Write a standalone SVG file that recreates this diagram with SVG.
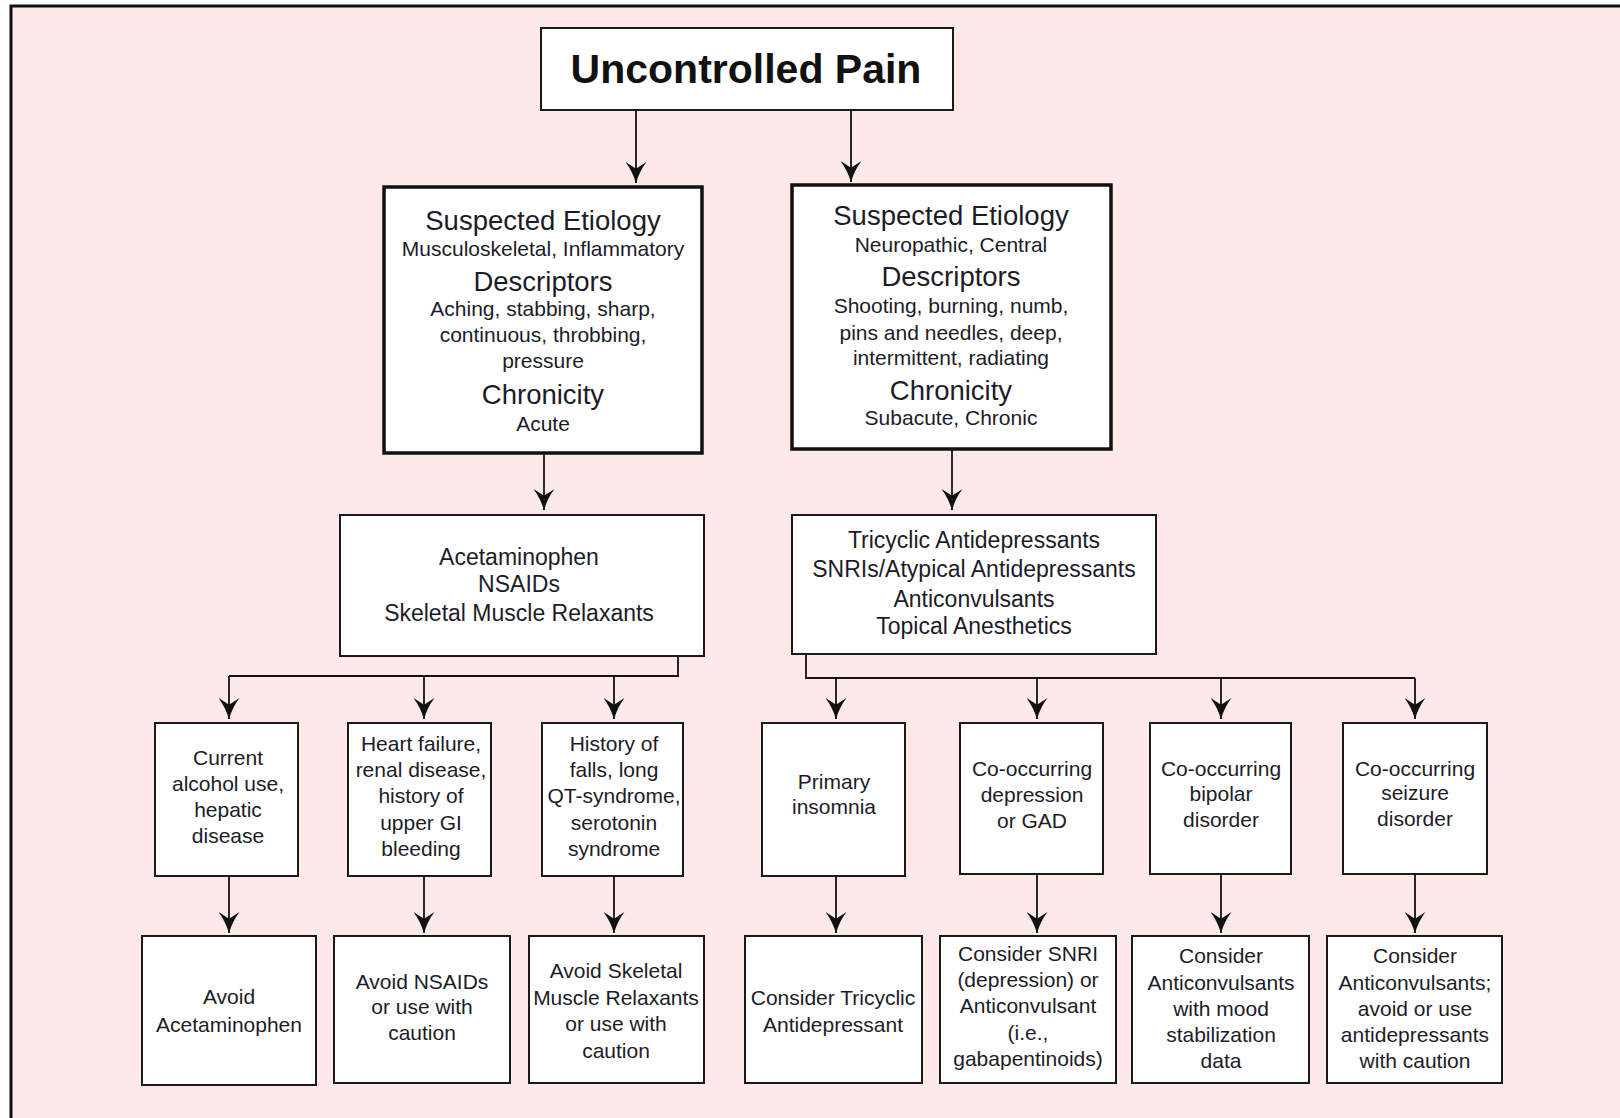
<svg xmlns="http://www.w3.org/2000/svg" width="1620" height="1118" viewBox="0 0 1620 1118">
<style>
.bx{fill:#fff;stroke:#1a1a1a;stroke-width:2}
.bxt{fill:#fff;stroke:#111;stroke-width:3.5}
.t{font-family:"Liberation Sans",Arial,sans-serif;fill:#1c1c28;text-anchor:middle}
.s21{font-size:21px}
.s23{font-size:23px}
.h{font-size:27.5px}
.c{fill:none;stroke:#111;stroke-width:1.8}
</style>
<defs>
<marker id="ah" viewBox="0 0 22 22" refX="22" refY="11" markerWidth="21" markerHeight="21" markerUnits="userSpaceOnUse" orient="auto">
<path d="M0,0 Q9,7 22,11 Q9,15 0,22 L7,11 z" fill="#111"/>
</marker>
</defs>
<rect x="0" y="0" width="1620" height="1118" fill="#fff"/>
<rect x="11" y="6" width="1620" height="1120" fill="#fde9e7" stroke="#111" stroke-width="3"/>

<g id="connectors">
<path class="c" d="M636,110 V183" marker-end="url(#ah)"/>
<path class="c" d="M851,110 V182" marker-end="url(#ah)"/>
<path class="c" d="M544,453 V510" marker-end="url(#ah)"/>
<path class="c" d="M952,449 V510" marker-end="url(#ah)"/>
<path class="c" d="M678,656 V676 H229"/>
<path class="c" d="M229,676 V719" marker-end="url(#ah)"/>
<path class="c" d="M424,676 V719" marker-end="url(#ah)"/>
<path class="c" d="M614,676 V719" marker-end="url(#ah)"/>
<path class="c" d="M806,654 V678 H1415"/>
<path class="c" d="M836,678 V719" marker-end="url(#ah)"/>
<path class="c" d="M1037,678 V719" marker-end="url(#ah)"/>
<path class="c" d="M1221,678 V719" marker-end="url(#ah)"/>
<path class="c" d="M1415,678 V719" marker-end="url(#ah)"/>
<path class="c" d="M229,876 V933" marker-end="url(#ah)"/>
<path class="c" d="M424,876 V933" marker-end="url(#ah)"/>
<path class="c" d="M614,876 V933" marker-end="url(#ah)"/>
<path class="c" d="M836,876 V933" marker-end="url(#ah)"/>
<path class="c" d="M1037,874 V933" marker-end="url(#ah)"/>
<path class="c" d="M1221,874 V933" marker-end="url(#ah)"/>
<path class="c" d="M1415,874 V933" marker-end="url(#ah)"/>
</g>

<g id="n-top">
<rect class="bx" x="541" y="28" width="412" height="82"/>
<text class="t" x="746" y="83" style="font-size:41px;font-weight:bold;fill:#111">Uncontrolled Pain</text>
</g>

<g id="n-etio-left">
<rect class="bxt" x="384" y="187" width="318" height="266"/>
<text class="t h" x="543" y="230">Suspected Etiology</text>
<text class="t s21" x="543" y="256">Musculoskeletal, Inflammatory</text>
<text class="t h" x="543" y="291">Descriptors</text>
<text class="t s21" x="543" y="316">Aching, stabbing, sharp,</text>
<text class="t s21" x="543" y="342">continuous, throbbing,</text>
<text class="t s21" x="543" y="368">pressure</text>
<text class="t h" x="543" y="404">Chronicity</text>
<text class="t s21" x="543" y="431">Acute</text>
</g>

<g id="n-etio-right">
<rect class="bxt" x="792" y="185" width="319" height="264"/>
<text class="t h" x="951" y="225">Suspected Etiology</text>
<text class="t s21" x="951" y="252">Neuropathic, Central</text>
<text class="t h" x="951" y="286">Descriptors</text>
<text class="t s21" x="951" y="313">Shooting, burning, numb,</text>
<text class="t s21" x="951" y="340">pins and needles, deep,</text>
<text class="t s21" x="951" y="365">intermittent, radiating</text>
<text class="t h" x="951" y="400">Chronicity</text>
<text class="t s21" x="951" y="425">Subacute, Chronic</text>
</g>

<g id="n-meds-left">
<rect class="bx" x="340" y="515" width="364" height="141"/>
<text class="t s23" x="519" y="565">Acetaminophen</text>
<text class="t s23" x="519" y="592">NSAIDs</text>
<text class="t s23" x="519" y="621">Skeletal Muscle Relaxants</text>
</g>

<g id="n-meds-right">
<rect class="bx" x="792" y="515" width="364" height="139"/>
<text class="t s23" x="974" y="548">Tricyclic Antidepressants</text>
<text class="t s23" x="974" y="577">SNRIs/Atypical Antidepressants</text>
<text class="t s23" x="974" y="607">Anticonvulsants</text>
<text class="t s23" x="974" y="634">Topical Anesthetics</text>
</g>

<g id="n-c1">
<rect class="bx" x="155" y="723" width="143" height="153"/>
<text class="t s21" x="228" y="765">Current</text>
<text class="t s21" x="228" y="791">alcohol use,</text>
<text class="t s21" x="228" y="817">hepatic</text>
<text class="t s21" x="228" y="843">disease</text>
</g>
<g id="n-c2">
<rect class="bx" x="348" y="723" width="143" height="153"/>
<text class="t s21" x="421" y="751">Heart failure,</text>
<text class="t s21" x="421" y="777">renal disease,</text>
<text class="t s21" x="421" y="803">history of</text>
<text class="t s21" x="421" y="830">upper GI</text>
<text class="t s21" x="421" y="856">bleeding</text>
</g>
<g id="n-c3">
<rect class="bx" x="542" y="723" width="141" height="153"/>
<text class="t s21" x="614" y="751">History of</text>
<text class="t s21" x="614" y="777">falls, long</text>
<text class="t s21" x="614" y="803">QT-syndrome,</text>
<text class="t s21" x="614" y="830">serotonin</text>
<text class="t s21" x="614" y="856">syndrome</text>
</g>
<g id="n-c4">
<rect class="bx" x="762" y="723" width="143" height="153"/>
<text class="t s21" x="834" y="789">Primary</text>
<text class="t s21" x="834" y="814">insomnia</text>
</g>
<g id="n-c5">
<rect class="bx" x="960" y="723" width="143" height="151"/>
<text class="t s21" x="1032" y="776">Co-occurring</text>
<text class="t s21" x="1032" y="802">depression</text>
<text class="t s21" x="1032" y="828">or GAD</text>
</g>
<g id="n-c6">
<rect class="bx" x="1150" y="723" width="141" height="151"/>
<text class="t s21" x="1221" y="776">Co-occurring</text>
<text class="t s21" x="1221" y="801">bipolar</text>
<text class="t s21" x="1221" y="827">disorder</text>
</g>
<g id="n-c7">
<rect class="bx" x="1343" y="723" width="144" height="151"/>
<text class="t s21" x="1415" y="776">Co-occurring</text>
<text class="t s21" x="1415" y="800">seizure</text>
<text class="t s21" x="1415" y="826">disorder</text>
</g>

<g id="n-r1">
<rect class="bx" x="142" y="936" width="174" height="149"/>
<text class="t s21" x="229" y="1004">Avoid</text>
<text class="t s21" x="229" y="1032">Acetaminophen</text>
</g>
<g id="n-r2">
<rect class="bx" x="334" y="936" width="176" height="147"/>
<text class="t s21" x="422" y="989">Avoid NSAIDs</text>
<text class="t s21" x="422" y="1014">or use with</text>
<text class="t s21" x="422" y="1040">caution</text>
</g>
<g id="n-r3">
<rect class="bx" x="529" y="936" width="175" height="147"/>
<text class="t s21" x="616" y="978">Avoid Skeletal</text>
<text class="t s21" x="616" y="1005">Muscle Relaxants</text>
<text class="t s21" x="616" y="1031">or use with</text>
<text class="t s21" x="616" y="1058">caution</text>
</g>
<g id="n-r4">
<rect class="bx" x="745" y="936" width="177" height="147"/>
<text class="t s21" x="833" y="1005">Consider Tricyclic</text>
<text class="t s21" x="833" y="1032">Antidepressant</text>
</g>
<g id="n-r5">
<rect class="bx" x="940" y="936" width="176" height="147"/>
<text class="t s21" x="1028" y="961">Consider SNRI</text>
<text class="t s21" x="1028" y="987">(depression) or</text>
<text class="t s21" x="1028" y="1013">Anticonvulsant</text>
<text class="t s21" x="1028" y="1040">(i.e.,</text>
<text class="t s21" x="1028" y="1066">gabapentinoids)</text>
</g>
<g id="n-r6">
<rect class="bx" x="1132" y="936" width="177" height="147"/>
<text class="t s21" x="1221" y="963">Consider</text>
<text class="t s21" x="1221" y="990">Anticonvulsants</text>
<text class="t s21" x="1221" y="1016">with mood</text>
<text class="t s21" x="1221" y="1042">stabilization</text>
<text class="t s21" x="1221" y="1068">data</text>
</g>
<g id="n-r7">
<rect class="bx" x="1327" y="936" width="175" height="147"/>
<text class="t s21" x="1415" y="963">Consider</text>
<text class="t s21" x="1415" y="990">Anticonvulsants;</text>
<text class="t s21" x="1415" y="1016">avoid or use</text>
<text class="t s21" x="1415" y="1042">antidepressants</text>
<text class="t s21" x="1415" y="1068">with caution</text>
</g>
</svg>
